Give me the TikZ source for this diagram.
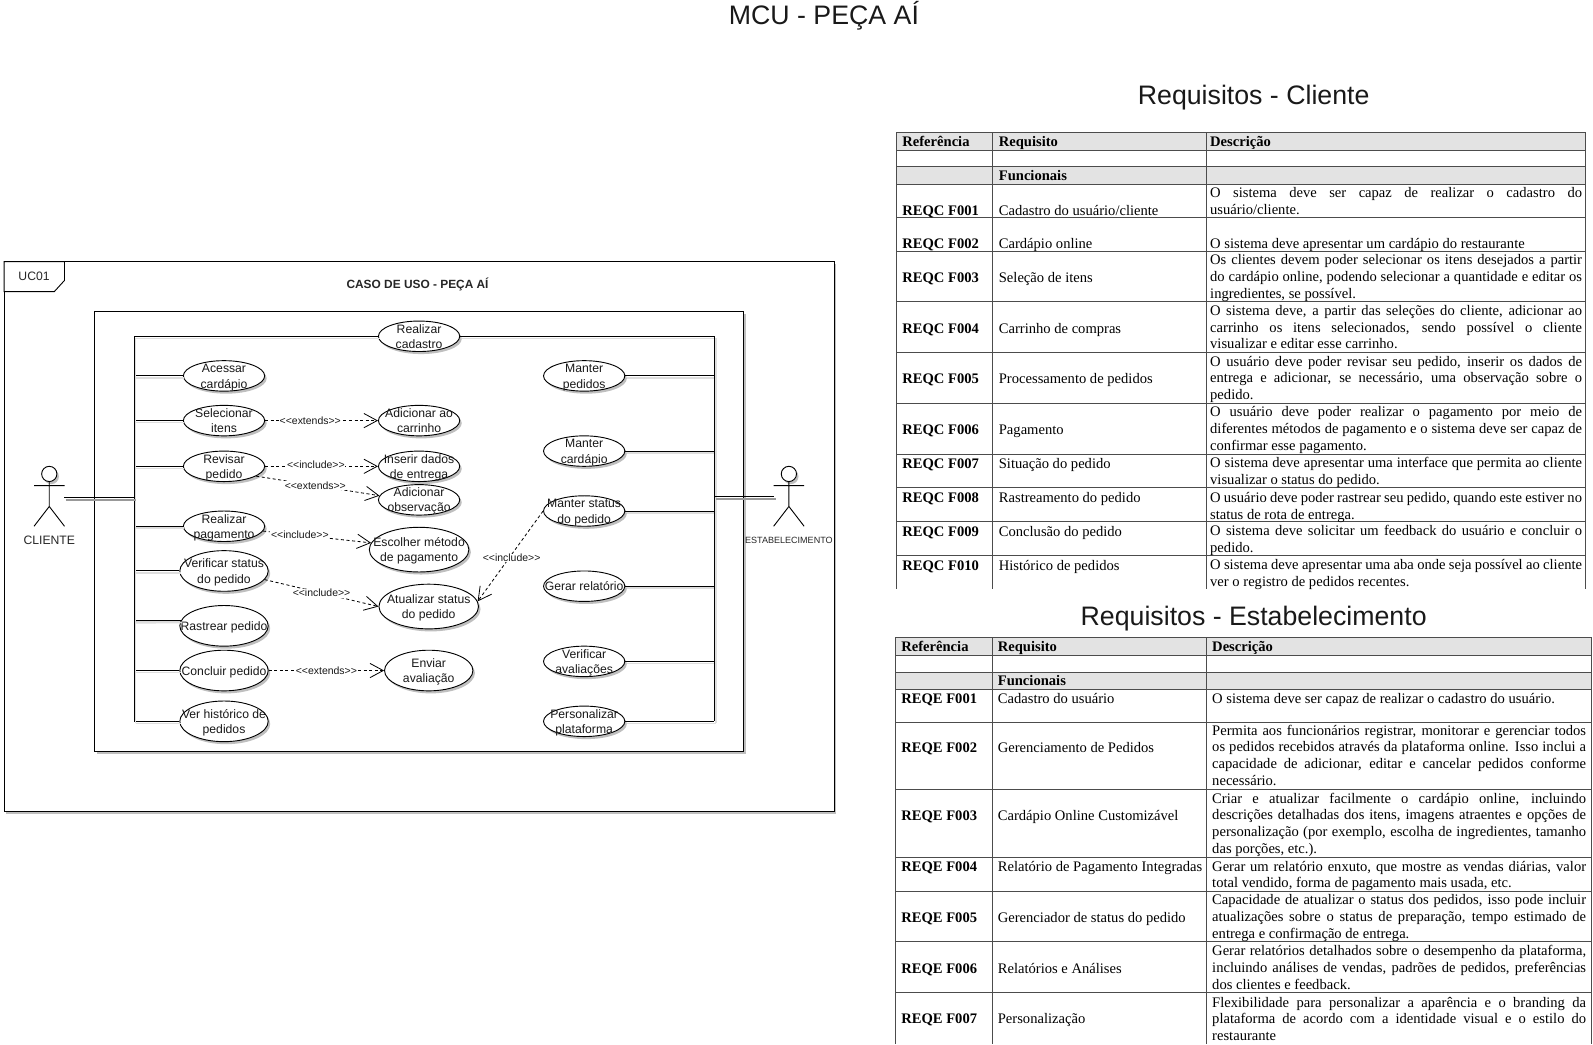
\documentclass[tikz,border=0pt]{standalone}
\usepackage{fontspec}
\setmainfont{Liberation Sans}
\newfontfamily\tabf{Liberation Serif}
\usetikzlibrary{shapes.geometric,shadows,arrows.meta}
\hbadness=10000 \hfuzz=20pt
\newcounter{cellno}
\newcommand\uct[1]{\makebox[0pt]{\smash{\raisebox{-.37em}{\begin{tabular}[c]{@{}c@{}}#1\end{tabular}}}}}
\newcommand\JA[1]{\makebox[366pt][s]{#1}}
\newcommand\JB[1]{\makebox[368pt][s]{#1}}
\tikzset{
 shd/.style={drop shadow={shadow xshift=2pt,shadow yshift=-2.5pt,opacity=.25,fill=black}},
 uc/.style n args={2}{ellipse,draw=black,fill=white,line width=.9pt,inner sep=0pt,minimum width=#1pt,minimum height=#2pt,shd,font=\fontsize{12}{15}\selectfont,text=black!90},
 ln/.style={line width=1pt,draw=black,preaction={draw=black!13,line width=1.6pt,transform canvas={shift={(1.5pt,-2pt)}}}},
 actln/.style={line width=1pt,draw=black,preaction={draw=black!40,line width=2.6pt,transform canvas={shift={(1.5pt,-2pt)}}}},
 dep/.style={line width=.8pt,dash pattern=on 3pt off 2.5pt,-{Straight Barb[length=13pt,width=14pt,line width=.8pt]}},
 lbl/.style={fill=white,inner sep=.6pt,font=\fontsize{10.3}{11}\selectfont,text=black!90},
 act/.style={line width=.9pt,black},
 tit/.style={inner sep=0pt,font=\fontsize{26.3}{30}\selectfont,text=black!90},
 tb/.style={line width=.7pt,draw=black!70},
 cell/.style={anchor=base west,inner sep=0pt,font=\tabf\fontsize{14.35}{16.5}\selectfont,text=black},
 dsc/.style={anchor=north west,inner sep=0pt,align=left,font=\tabf\fontsize{14.35}{16.5}\selectfont,text=black},
}
% x ref, x req, x desc, y centre, ref, req, y first desc line centre, desc
\newcommand\trow[8]{%
 \stepcounter{cellno}\node[cell] (ra\thecellno) at (#1,#4+4.8) {\textbf{#5}};
 \node[cell] (rb\thecellno) at (#2,#4+4.8) {#6};
 \node[dsc] (rc\thecellno) at (#3,#7-5.8) {#8};}
\begin{document}
\begin{tikzpicture}[x=1pt,y=-1pt]
\useasboundingbox (0,0) rectangle (1568,1028);
\fill[white] (0,0) rectangle (1568,1028);
% titles
\node[tit] (t0) at (811,15.5) {MCU - PEÇA AÍ};
\node[tit] (t1) at (1234,96.5) {Requisitos - Cliente};
\node[tit] (t2) at (1234,608.5) {Requisitos - Estabelecimento};
% frames
\node[draw=black,fill=white,line width=.9pt,minimum width=817pt,minimum height=541pt,inner sep=0pt,shd] (frame) at (412.5,528) {};
\path[draw=black,fill=white,line width=.9pt] (4,257.5) -- (63.5,257.5) -- (63.5,276) -- (53.5,287) -- (4,287) -- cycle;
\node[font=\fontsize{12}{14}\selectfont,text=black!85] (uc01) at (33.5,272) {UC01};
\node[font=\bfseries\fontsize{11.7}{14}\selectfont,text=black!85] (casetitle) at (411,280) {CASO DE USO - PEÇA AÍ};
\node[draw=black,fill=white,line width=.9pt,minimum width=639pt,minimum height=433pt,inner sep=0pt,shd] (sys) at (412.5,523.5) {};
% bus
\coordinate (b1) at (132,331); \coordinate (b2) at (132,710);
\coordinate (d1) at (703,331); \coordinate (d2) at (703,710);
\foreach \n/\y in {la/370,lb/414,lc/459,ld/518,le/562,lf/611,lg/660,lh/710} \coordinate (\n) at (132,\y);
\foreach \n/\y in {ra/370,rb/444,rc/503,rd/577,re/651,rf/710} \coordinate (\n) at (703,\y);
\coordinate (aL) at (63,490); \coordinate (bL) at (132,490);
\coordinate (aR) at (762,489); \coordinate (bR) at (703,489);
% use cases
\node[uc={80}{30}] (cad) at (412.5,331) {\uct{Realizar\\cadastro}};
\node[uc={80}{30}] (ace) at (220.5,370) {\uct{Acessar\\cardápio}};
\node[uc={80}{30}] (sel) at (220.5,414) {\uct{Selecionar\\itens}};
\node[uc={80}{30}] (rev) at (220.5,459) {\uct{Revisar\\pedido}};
\node[uc={80}{30}] (pag) at (220.5,518) {\uct{Realizar\\pagamento}};
\node[uc={87}{40}] (ver) at (220.5,562) {\uct{Verificar status\\do pedido}};
\node[uc={87}{40}] (ras) at (220.5,616) {\uct{Rastrear pedido}};
\node[uc={87}{40}] (con) at (220.5,660) {\uct{Concluir pedido}};
\node[uc={87}{40}] (his) at (220.5,710) {\uct{Ver histórico de\\pedidos}};
\node[uc={80}{30}] (car) at (412.5,414) {\uct{Adicionar ao\\carrinho}};
\node[uc={80}{30}] (ins) at (412.5,459) {\uct{Inserir dados\\de entrega}};
\node[uc={80}{30}] (obs) at (412.5,492) {\uct{Adicionar\\observação}};
\node[uc={98}{44}] (esc) at (412.5,541) {\uct{Escolher método\\de pagamento}};
\node[uc={98}{44}] (atu) at (422,597) {\uct{Atualizar status\\do pedido}};
\node[uc={87}{40}] (env) at (422,660) {\uct{Enviar\\avaliação}};
\node[uc={80}{30}] (mpe) at (575,370) {\uct{Manter\\pedidos}};
\node[uc={80}{30}] (mca) at (575,444) {\uct{Manter\\cardápio}};
\node[uc={80}{30}] (mst) at (575,503) {\uct{Manter status\\do pedido}};
\node[uc={80}{30}] (ger) at (575,577) {\uct{Gerar relatório}};
\node[uc={80}{30}] (vav) at (575,651) {\uct{Verificar\\avaliações}};
\node[uc={80}{30}] (per) at (575,710) {\uct{Personalizar\\plataforma}};
% association lines
\draw[ln] (b1) -- (cad);
\draw[ln] (cad) -- (d1);
\draw[ln] (la) -- (ace);
\draw[ln] (lb) -- (sel);
\draw[ln] (lc) -- (rev);
\draw[ln] (ld) -- (pag);
\draw[ln] (le) -- (ver);
\draw[ln] (lf) -- (ras.173);
\draw[ln] (lg) -- (con);
\draw[ln] (lh) -- (his);
\draw[ln] (mpe) -- (ra);
\draw[ln] (mca) -- (rb);
\draw[ln] (mst) -- (rc);
\draw[ln] (ger) -- (rd);
\draw[ln] (vav) -- (re);
\draw[ln] (per) -- (rf);
\draw[ln] (b1) -- (b2);
\draw[ln] (d1) -- (d2);
\draw[actln] (aL) -- (bL);
\draw[actln] (aR) -- (bR);
% dependencies
\draw[dep] (sel) -- node[lbl,pos=.4] (l1) {<{}<extends>{}>} (car);
\draw[dep] (rev) -- node[lbl,pos=.45,yshift=1.5pt] (l2) {<{}<include>{}>} (ins);
\draw[dep] (rev.-17) -- node[lbl,pos=.48] (l3) {<{}<extends>{}>} (obs.174);
\draw[dep] (pag.-7.5) -- node[lbl,pos=.34] (l4) {<{}<include>{}>} (esc.172);
\draw[dep] (ver.-12) -- node[lbl,pos=.5] (l5) {<{}<include>{}>} (atu.west);
\draw[dep] (con) -- node[lbl,pos=.5] (l6) {<{}<extends>{}>} (env);
\draw[dep] (mst.west) -- node[lbl,pos=.52,xshift=2.5pt] (l7) {<{}<include>{}>} (atu.6);
% actors
\node[circle,draw=black,fill=white,line width=.9pt,minimum size=15pt,inner sep=0pt,shd] (hl) at (48.5,466.5) {};
\coordinate (hb) at (48.5,498.5); \coordinate (sl1) at (33.5,478); \coordinate (sl2) at (63.5,478);
\coordinate (fl1) at (33.5,518); \coordinate (fl2) at (63.5,518);
\draw[act] (hl) -- (hb) (sl1) -- (sl2) (fl1) -- (hb) -- (fl2);
\node[font=\fontsize{12}{14}\selectfont,text=black!85] (cli) at (48.5,531.5) {CLIENTE};
\node[circle,draw=black,fill=white,line width=.9pt,minimum size=15pt,inner sep=0pt,shd] (hr) at (776.5,466.5) {};
\coordinate (rb0) at (776.5,498.5); \coordinate (sr1) at (761.5,478); \coordinate (sr2) at (791.5,478);
\coordinate (fr1) at (761.5,518); \coordinate (fr2) at (791.5,518);
\draw[act] (hr) -- (rb0) (sr1) -- (sr2) (fr1) -- (rb0) -- (fr2);
\node[font=\fontsize{8.9}{12}\selectfont,text=black!85] (est) at (776.5,532) {ESTABELECIMENTO};
% table 1
\fill[black!11] (882,130) rectangle (1560,148) (882,164) rectangle (1560,181);
\foreach \y in {130,148,164,181,214,247,297,347,397,447,480,513,547} \draw[tb] (882,\y) -- (1560,\y);
\foreach \x in {882,977,1187,1560} \draw[tb] (\x,130) -- (\x,580);
\node[cell] (h1a) at (888,143.8) {\textbf{Referência}};
\node[cell] (h1b) at (983,143.8) {\textbf{Requisito}};
\node[cell] (h1c) at (1191,143.8) {\textbf{Descrição}};
\node[cell] (f1) at (983,177.5) {\textbf{Funcionais}};
\trow{888}{983}{1191}{207}{REQC F001}{Cadastro do usuário/cliente}{190}{\JA{O sistema deve ser capaz de realizar o cadastro do}\\usuário/cliente.}
\trow{888}{983}{1191}{240}{REQC F002}{Cardápio online}{240}{O sistema deve apresentar um cardápio do restaurante}
\trow{888}{983}{1191}{273}{REQC F003}{Seleção de itens}{256}{\JA{Os clientes devem poder selecionar os itens desejados a partir}\\\JA{do cardápio online, podendo selecionar a quantidade e editar os}\\ingredientes, se possível.}
\trow{888}{983}{1191}{323}{REQC F004}{Carrinho de compras}{306}{\JA{O sistema deve, a partir das seleções do cliente, adicionar ao}\\\JA{carrinho os itens selecionados, sendo possível o cliente}\\visualizar e editar esse carrinho.}
\trow{888}{983}{1191}{373}{REQC F005}{Processamento de pedidos}{356}{\JA{O usuário deve poder revisar seu pedido, inserir os dados de}\\\JA{entrega e adicionar, se necessário, uma observação sobre o}\\pedido.}
\trow{888}{983}{1191}{423}{REQC F006}{Pagamento}{406}{\JA{O usuário deve poder realizar o pagamento por meio de}\\\JA{diferentes métodos de pagamento e o sistema deve ser capaz de}\\confirmar esse pagamento.}
\trow{888}{983}{1191}{456}{REQC F007}{Situação do pedido}{456}{\JA{O sistema deve apresentar uma interface que permita ao cliente}\\visualizar o status do pedido.}
\trow{888}{983}{1191}{490}{REQC F008}{Rastreamento do pedido}{490}{\JA{O usuário deve poder rastrear seu pedido, quando este estiver no}\\status de rota de entrega.}
\trow{888}{983}{1191}{523}{REQC F009}{Conclusão do pedido}{523}{\JA{O sistema deve solicitar um feedback do usuário e concluir o}\\pedido.}
\trow{888}{983}{1191}{557}{REQC F010}{Histórico de pedidos}{556}{\JA{O sistema deve apresentar uma aba onde seja possível ao cliente}\\ver o registro de pedidos recentes.}
% table 2
\fill[black!11] (881,627) rectangle (1566,645) (881,662) rectangle (1566,679);
\foreach \y in {627,645,662,679,711,777,844,877,927,977} \draw[tb] (881,\y) -- (1566,\y);
\foreach \x in {881,977,1187,1566} \draw[tb] (\x,627) -- (\x,1028);
\node[cell] (h2a) at (887,640.8) {\textbf{Referência}};
\node[cell] (h2b) at (982,640.8) {\textbf{Requisito}};
\node[cell] (h2c) at (1193,640.8) {\textbf{Descrição}};
\node[cell] (f2) at (982,675) {\textbf{Funcionais}};
\trow{887}{982}{1193}{688}{REQE F001}{Cadastro do usuário}{688}{O sistema deve ser capaz de realizar o cadastro do usuário.}
\trow{887}{982}{1193}{736}{REQE F002}{Gerenciamento de Pedidos}{719}{\JB{Permita aos funcionários registrar, monitorar e gerenciar todos}\\\JB{os pedidos recebidos através da plataforma online. Isso inclui a}\\\JB{capacidade de adicionar, editar e cancelar pedidos conforme}\\necessário.}
\trow{887}{982}{1193}{803}{REQE F003}{Cardápio Online Customizável}{786}{\JB{Criar e atualizar facilmente o cardápio online, incluindo}\\\JB{descrições detalhadas dos itens, imagens atraentes e opções de}\\\JB{personalização (por exemplo, escolha de ingredientes, tamanho}\\das porções, etc.).}
\trow{887}{982}{1193}{853}{REQE F004}{Relatório de Pagamento Integradas}{853}{\JB{Gerar um relatório enxuto, que mostre as vendas diárias, valor}\\total vendido, forma de pagamento mais usada, etc.}
\trow{887}{982}{1193}{903}{REQE F005}{Gerenciador de status do pedido}{886}{\JB{Capacidade de atualizar o status dos pedidos, isso pode incluir}\\\JB{atualizações sobre o status de preparação, tempo estimado de}\\entrega e confirmação de entrega.}
\trow{887}{982}{1193}{953}{REQE F006}{Relatórios e Análises}{936}{\JB{Gerar relatórios detalhados sobre o desempenho da plataforma,}\\\JB{incluindo análises de vendas, padrões de pedidos, preferências}\\dos clientes e feedback.}
\trow{887}{982}{1193}{1003}{REQE F007}{Personalização}{987}{\JB{Flexibilidade para personalizar a aparência e o branding da}\\\JB{plataforma de acordo com a identidade visual e o estilo do}\\restaurante}
\end{tikzpicture}
\end{document}
